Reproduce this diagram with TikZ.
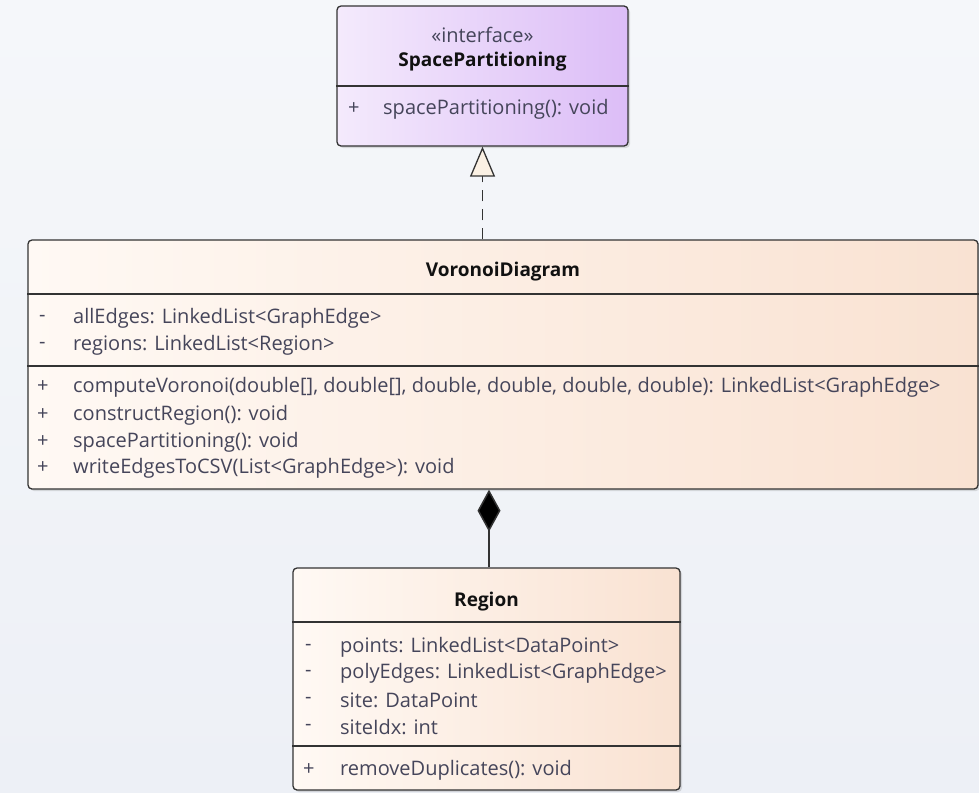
\documentclass[tikz,border=0pt]{standalone}
\usepackage{fontspec}
\setmainfont{Open Sans}
\usetikzlibrary{arrows.meta,positioning,calc,shadows}
\definecolor{Canvas}{HTML}{F5F7FA}
\definecolor{CanvasLow}{HTML}{EDF0F6}
\definecolor{Ink}{HTML}{111111}
\definecolor{Member}{HTML}{45455A}
\definecolor{Frame}{HTML}{333333}
\definecolor{IfaceL}{HTML}{F4EAFC}
\definecolor{IfaceR}{HTML}{DCBDF7}
\definecolor{ClassL}{HTML}{FFF9F4}
\definecolor{ClassR}{HTML}{F9E2D2}
\definecolor{Tip}{HTML}{FBF1E4}
\tikzset{
  ifacebox/.style={draw=Frame,line width=1.3pt,rounded corners=4pt,left color=IfaceL,right color=IfaceR,drop shadow={shadow xshift=2pt,shadow yshift=-2pt,opacity=0.25}},
  classbox/.style={draw=Frame,line width=1.3pt,rounded corners=4pt,left color=ClassL,right color=ClassR,drop shadow={shadow xshift=2pt,shadow yshift=-2pt,opacity=0.25}},
  sep/.style={draw=Frame,line width=1.2pt},
  title/.style={font=\fontsize{19}{22}\selectfont\bfseries,text=Ink,inner sep=0pt},
  stereo/.style={font=\fontsize{20}{22}\selectfont,text=Member,inner sep=0pt},
  member/.style={anchor=west,font=\fontsize{20}{22}\selectfont,text=Member,inner sep=0pt},
  realize/.style={draw=Frame,line width=1.8pt,dash pattern=on 11pt off 8pt,-{Triangle[open,fill=Tip,length=30pt,width=25pt,line width=1.3pt]}},
  compose/.style={draw=Frame,line width=1.5pt,-{Diamond[fill=black,length=42pt,width=23pt]}}
}
\begin{document}
\begin{tikzpicture}[x=1pt,y=-1pt]
  \useasboundingbox[top color=Canvas,bottom color=CanvasLow] (0,0) rectangle (979,792);
  % interface
  \node[ifacebox,minimum width=291pt,minimum height=140pt] (iface) at (482.5,76) {};
  \draw[sep] (iface.west |- 0,86) -- (iface.east |- 0,86);
  \node[stereo] (ifst) at (482.5,35) {«interface»};
  \node[title] (ifname) at (482.5,62) {SpacePartitioning};
  \node[member] (ifv1) at (348,109) {+};
  \node[member] (ifm1) at (383,109) {spacePartitioning(): void};
  % VoronoiDiagram
  \node[classbox,minimum width=950pt,minimum height=249pt] (vd) at (503,364.5) {};
  \draw[sep] (vd.west |- 0,294) -- (vd.east |- 0,294);
  \draw[sep] (vd.west |- 0,366) -- (vd.east |- 0,366);
  \node[title] (vdname) at (503,272) {VoronoiDiagram};
  \node[member] (vdv1) at (39,318) {-};
  \node[member] (vda1) at (73,318) {allEdges: LinkedList<GraphEdge>};
  \node[member] (vdv2) at (39,345) {-};
  \node[member] (vda2) at (73,345) {regions: LinkedList<Region>};
  \node[member] (vdv3) at (37,387) {+};
  \node[member] (vdm1) at (73,387) {computeVoronoi(double[], double[], double, double, double, double): LinkedList<GraphEdge>};
  \node[member] (vdv4) at (37,415) {+};
  \node[member] (vdm2) at (73,415) {constructRegion(): void};
  \node[member] (vdv5) at (37,442) {+};
  \node[member] (vdm3) at (73,442) {spacePartitioning(): void};
  \node[member] (vdv6) at (37,468) {+};
  \node[member] (vdm4) at (73,468) {writeEdgesToCSV(List<GraphEdge>): void};
  % Region
  \node[classbox,minimum width=387pt,minimum height=222pt] (region) at (486.5,679) {};
  \draw[sep] (region.west |- 0,622) -- (region.east |- 0,622);
  \draw[sep] (region.west |- 0,746) -- (region.east |- 0,746);
  \node[title] (rgname) at (486.5,602) {Region};
  \node[member] (rgv1) at (305,647) {-};
  \node[member] (rga1) at (340,647) {points: LinkedList<DataPoint>};
  \node[member] (rgv2) at (305,673) {-};
  \node[member] (rga2) at (340,673) {polyEdges: LinkedList<GraphEdge>};
  \node[member] (rgv3) at (305,700) {-};
  \node[member] (rga3) at (340,700) {site: DataPoint};
  \node[member] (rgv4) at (305,727) {-};
  \node[member] (rga4) at (340,727) {siteIdx: int};
  \node[member] (rgv5) at (303,770) {+};
  \node[member] (rgm1) at (340,770) {removeDuplicates(): void};
  % relations
  \draw[realize] (iface.south |- vd.north) -- (iface.south);
  \draw[compose] ($(region.north)+(2.5,0)$) -- ($(region.north |- vd.south)+(2.5,0)$);
\end{tikzpicture}
\end{document}
